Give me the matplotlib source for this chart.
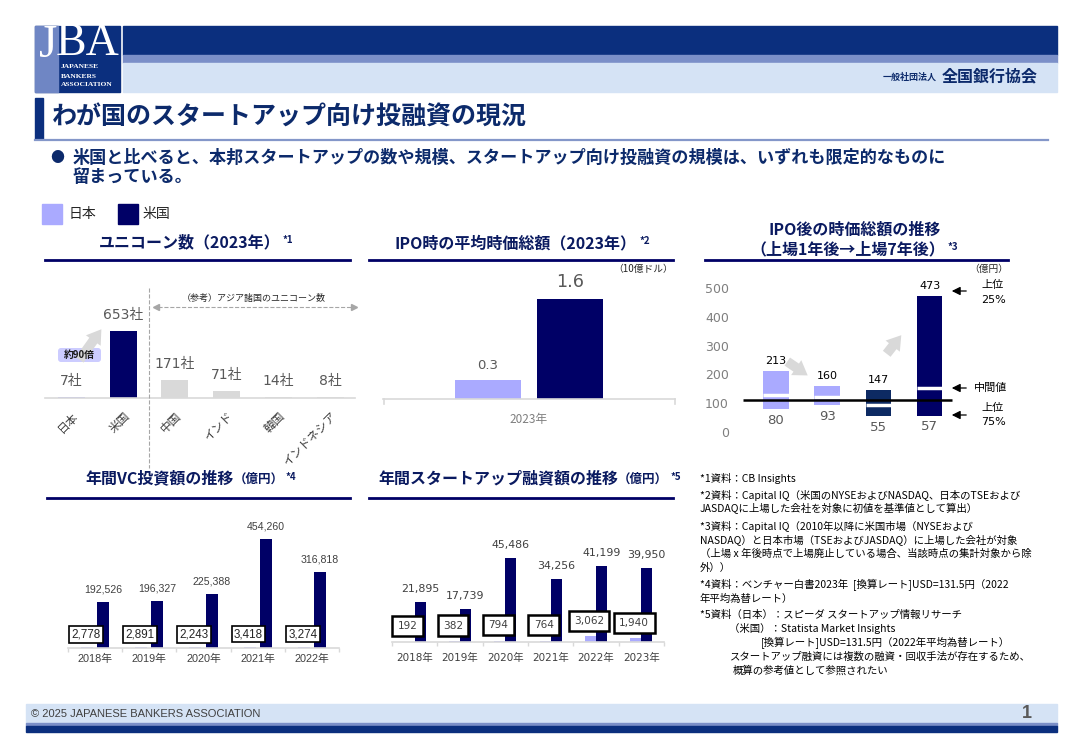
import numpy as np
import matplotlib
matplotlib.use('Agg')
import matplotlib.pyplot as plt
from matplotlib.patches import Rectangle, FancyBboxPatch

plt.rcParams['font.family'] = ['Noto Sans CJK JP', 'DejaVu Sans']
NUM = ['DejaVu Sans', 'Noto Sans CJK JP']
ARIAL = ['Liberation Sans', 'Noto Sans CJK JP']

# ---- data ----
legend_names = ['日本', '米国']

uni_countries = ['日本', '米国', '中国', 'インド', '韓国', 'インドネシア']
uni_counts = [7, 653, 171, 71, 14, 8]

ipo_year = '2023年'
ipo_values = [0.3, 1.6]          # 10億ドル: 日本, 米国

post_high = [213, 160, 147, 473]  # 上位25%
post_low = [80, 93, 55, 57]       # 上位75%
post_mid = [127, 122, 95, 153]    # 中間値
post_ref = 110

vc_years = ['2018年', '2019年', '2020年', '2021年', '2022年']
vc_jp = [2778, 2891, 2243, 3418, 3274]
vc_us = [192526, 196327, 225388, 454260, 316818]

loan_years = ['2018年', '2019年', '2020年', '2021年', '2022年', '2023年']
loan_jp = [192, 382, 794, 764, 3062, 1940]
loan_us = [21895, 17739, 45486, 34256, 41199, 39950]

notes = [
    '*1資料：CB Insights',
    '*2資料：Capital IQ（米国のNYSEおよびNASDAQ、日本のTSEおよび',
    'JASDAQに上場した会社を対象に初値を基準値として算出）',
    '*3資料：Capital IQ（2010年以降に米国市場（NYSEおよび',
    'NASDAQ）と日本市場（TSEおよびJASDAQ）に上場した会社が対象',
    '（上場 x 年後時点で上場廃止している場合、当該時点の集計対象から除',
    '外））',
    '*4資料：ベンチャー白書2023年  [換算レート]USD=131.5円（2022',
    '年平均為替レート）',
    '*5資料（日本）：スピーダ スタートアップ情報リサーチ',
    '（米国）：Statista Market Insights',
    '[換算レート]USD=131.5円（2022年平均為替レート）',
    'スタートアップ融資には複数の融資・回収手法が存在するため、',
    '概算の参考値として参照されたい',
]
note_pos = [(700, 478), (700, 495), (700, 509), (700, 526), (700, 540), (700, 554),
            (700, 568), (700, 585), (700, 599), (700, 615), (729, 629), (761, 643),
            (730, 657), (733, 671)]

LIGHT = '#aaaaff'
NAVY = '#000066'
NAVY2 = '#0d2a63'
GREY = '#d9d9d9'
HDR = '#0b2f7e'
MID = '#7b8fc8'
PALE = '#d5e3f5'
TXT = '#0c2a6b'
PT = '#0a1a60'

W, H = 1084, 750
fig = plt.figure(figsize=(W / 100, H / 100), dpi=100)


def box_axes(x0, y0, x1, y1):
    a = fig.add_axes([x0 / W, 1 - y1 / H, (x1 - x0) / W, (y1 - y0) / H])
    a.patch.set_alpha(0)
    for s in ['top', 'right', 'left']:
        a.spines[s].set_visible(False)
    a.spines['bottom'].set_color(GREY)
    a.spines['bottom'].set_linewidth(1.2)
    a.tick_params(axis='y', left=False, labelleft=False)
    return a


ov = fig.add_axes([0, 0, 1, 1])
ov.set_xlim(0, W)
ov.set_ylim(H, 0)
ov.axis('off')
ov.set_zorder(10)


def panel_title(x, y, text, note, unit=None, ha='center'):
    t = ov.text(x, y, text, fontsize=11.5, weight='bold', color=PT, ha=ha, va='center')
    last = t
    if unit:
        last = ov.annotate(unit, xy=(1, 0.45), xycoords=t, ha='left', va='center',
                           fontsize=9, weight='bold', color=PT)
    ov.annotate(note, xy=(1, 0.64), xycoords=last, xytext=(1.5, 0), textcoords='offset points',
                ha='left', va='center', fontsize=7, weight='bold', color=PT)


# ---- header ----
ov.add_patch(Rectangle((35, 26), 85, 66, color=HDR))
ov.add_patch(Rectangle((35, 26), 23, 66, color='#6f86c4'))
ov.text(48, 46, 'J', color='white', fontsize=34, family='Liberation Serif', ha='center', va='center')
ov.text(88, 44, 'BA', color='white', fontsize=33, family='Liberation Serif', ha='center', va='center')
for yy, t in [(67, 'JAPANESE'), (76, 'BANKERS'), (85, 'ASSOCIATION')]:
    ov.text(61, yy, t, color='white', fontsize=5.4, family='Liberation Serif', weight='bold', va='center')
ov.add_patch(Rectangle((123, 26), 934, 29, color=HDR))
ov.add_patch(Rectangle((123, 55), 934, 8, color=MID))
ov.add_patch(Rectangle((123, 63), 934, 29, color=PALE))
ov.text(937, 77, '一般社団法人', fontsize=6.5, weight='bold', color=TXT, ha='right', va='center')
ov.text(1038, 76, '全国銀行協会', fontsize=11.5, weight='bold', color=TXT, ha='right', va='center')

# ---- title ----
ov.add_patch(Rectangle((35, 98), 8, 41, color=HDR))
ov.plot([35, 1048], [139.5, 139.5], color='#8497c9', lw=1.6)
ov.text(52, 118, 'わが国のスタートアップ向け投融資の現況', fontsize=18, weight='bold', color=TXT, va='center')
ov.text(57, 158, '●', fontsize=10, color=TXT, ha='center', va='center')
ov.text(73, 158, '米国と比べると、本邦スタートアップの数や規模、スタートアップ向け投融資の規模は、いずれも限定的なものに',
        fontsize=12.3, weight='bold', color=TXT, va='center')
ov.text(73, 177, '留まっている。', fontsize=12.3, weight='bold', color=TXT, va='center')

# legend
ov.add_patch(Rectangle((42, 204), 20, 20, color=LIGHT))
ov.text(69, 214, legend_names[0], fontsize=10, color='#262626', va='center')
ov.add_patch(Rectangle((118, 204), 20, 20, color=NAVY))
ov.text(143, 214, legend_names[1], fontsize=10, color='#262626', va='center')

# panel titles
panel_title(190, 242, 'ユニコーン数（2023年）', '*1')
ov.plot([45, 350], [259.5, 259.5], color=NAVY, lw=2)

panel_title(516, 243, 'IPO時の平均時価総額（2023年）', '*2')
ov.plot([369, 673], [260, 260], color=NAVY, lw=2)
ov.text(673, 269, '（10億ドル）', fontsize=7, color='#262626', ha='right', va='center')

ov.text(855, 230, 'IPO後の時価総額の推移', fontsize=11.5, weight='bold', color=PT, ha='center', va='center')
panel_title(848, 249, '（上場1年後→上場7年後）', '*3')
ov.plot([705, 1008], [260, 260], color=NAVY, lw=2)
ov.text(1008, 269, '（億円）', fontsize=7, color='#262626', ha='right', va='center')

panel_title(85, 478, '年間VC投資額の推移', '*4', unit='（億円）', ha='left')
ov.plot([47, 350], [498, 498], color=NAVY, lw=2)

panel_title(378, 478, '年間スタートアップ融資額の推移', '*5', unit='（億円）', ha='left')
ov.plot([369, 673], [498, 498], color=NAVY, lw=2)

# ---- panel 1: unicorns ----
ax1 = box_axes(45, 280, 355, 398)
x1 = np.arange(len(uni_counts))
ax1.bar(x1, uni_counts, width=0.52, color=[LIGHT, NAVY] + [GREY] * 4)
ax1.set_xlim(-0.51, 5.48)
ax1.set_ylim(0, 1150)
for i, v in enumerate(uni_counts):
    ax1.annotate(f'{v}社', (i, v), xytext=(0, 11.5), textcoords='offset points',
                 ha='center', va='center', fontsize=10, color='#595959', family=NUM)
ax1.set_xticks(x1)
ax1.set_xticklabels(uni_countries, rotation=45, ha='right', rotation_mode='anchor',
                    fontsize=8.5, color='#404040')
ax1.tick_params(axis='x', length=0, pad=8)

ov.plot([149, 149], [288, 468], ls='--', color='#a6a6a6', lw=0.8)
ov.plot([158, 352], [307, 307], ls='--', color='#a6a6a6', lw=0.8)
ov.plot([156], [307], marker='<', color='#a6a6a6', ms=5)
ov.plot([354], [307], marker='>', color='#a6a6a6', ms=5)
ov.text(254, 298, '（参考）アジア諸国のユニコーン数', fontsize=6.5, color='#262626', ha='center', va='center')
ov.annotate('', xy=(103, 327), xytext=(78, 362),
            arrowprops=dict(arrowstyle='simple,head_width=1.3,head_length=1.0,tail_width=0.7',
                            color=GREY, lw=0))
ov.add_patch(FancyBboxPatch((58, 348), 43, 14, boxstyle='round,pad=0,rounding_size=3',
                            fc='#ccccff', ec='none'))
ov.text(79.5, 355, '約90倍', fontsize=7, weight='bold', color='#1a1a1a', ha='center', va='center')

# ---- panel 2: IPO average market cap ----
ax2 = box_axes(383, 270, 675, 399)
ax2.bar([0, 1], ipo_values, width=0.8, color=[LIGHT, NAVY])
ax2.set_xlim(-1.267, 2.27)
ax2.set_ylim(0, 2.064)
for i, (v, fs) in enumerate(zip(ipo_values, [9.5, 12.7])):
    ax2.annotate(f'{v:.1f}', (i, v), xytext=(0, 6), textcoords='offset points',
                 ha='center', va='bottom', fontsize=fs, color='#595959', family=NUM)
ax2.set_xticks([0.5])
ax2.set_xticklabels([ipo_year], fontsize=8.5, color='#7f7f7f')
ax2.tick_params(axis='x', length=0, pad=10)
ov.plot([383.5, 383.5], [399, 404], color=GREY, lw=1.2)
ov.plot([674.5, 674.5], [399, 404], color=GREY, lw=1.2)

# ---- panel 3: post-IPO market cap ----
ax3 = box_axes(740, 270, 960, 432)
ax3.spines['bottom'].set_visible(False)
x3 = np.arange(len(post_high))
ax3.bar(x3, np.array(post_high) - np.array(post_low), bottom=post_low, width=0.5,
        color=[LIGHT, LIGHT, NAVY2, NAVY])
ax3.hlines(post_mid, x3 - 0.25, x3 + 0.25, color='white', lw=2.5)
ax3.hlines(post_ref, -0.645, 3.44, color='black', lw=1.8)
ax3.set_xlim(-0.703, 3.594)
ax3.set_ylim(0, 562.5)
ax3.set_xticks([])
ax3.set_yticks(range(0, 501, 100))
ax3.tick_params(axis='y', left=False, labelleft=True, labelsize=9, labelcolor='#7f7f7f', pad=4.5)
for lbl in ax3.get_yticklabels():
    lbl.set_family(NUM)
for i in x3:
    ax3.annotate(str(post_high[i]), (i, post_high[i]), xytext=(0, 3.6), textcoords='offset points',
                 ha='center', va='bottom', fontsize=8, color='black', family=NUM)
    ax3.annotate(str(post_low[i]), (i, post_low[i]), xytext=(0, -3.5), textcoords='offset points',
                 ha='center', va='top', fontsize=9.5, color='#595959', family=NUM)

for ya in [291, 388, 415]:
    ov.annotate('', xy=(949, ya), xytext=(969, ya),
                arrowprops=dict(arrowstyle='-|>,head_width=0.25,head_length=0.5', color='black', lw=0.9))
ov.text(993, 285, '上位', fontsize=8, color='black', ha='center', va='center')
ov.text(993, 300, '25%', fontsize=8, color='black', ha='center', va='center', family=NUM)
ov.text(991, 388, '中間値', fontsize=8, color='black', ha='center', va='center')
ov.text(993, 408, '上位', fontsize=8, color='black', ha='center', va='center')
ov.text(993, 422, '75%', fontsize=8, color='black', ha='center', va='center', family=NUM)
ov.annotate('', xy=(810, 377), xytext=(785, 360),
            arrowprops=dict(arrowstyle='simple,head_width=1.3,head_length=1.0,tail_width=0.7',
                            color=GREY, lw=0))
ov.annotate('', xy=(903, 333), xytext=(885, 356),
            arrowprops=dict(arrowstyle='simple,head_width=1.3,head_length=1.0,tail_width=0.7',
                            color=GREY, lw=0))

# ---- panel 4: VC investment ----
ax4 = box_axes(68, 520, 339, 648)
x4 = np.arange(len(vc_us))
ax4.bar(x4 - 0.15, vc_jp, 0.22, color=LIGHT)
ax4.bar(x4 + 0.15, vc_us, 0.22, color=NAVY)
ax4.set_xlim(-0.5, 4.5)
ax4.set_ylim(0, 533450)
for i in x4:
    ax4.annotate(f'{vc_us[i]:,}', (i + 0.15, vc_us[i]), xytext=(0, 5.5), textcoords='offset points',
                 ha='center', va='bottom', fontsize=7.6, color='#404040', family=ARIAL)
    ax4.annotate(f'{vc_jp[i]:,}', (i - 0.17, vc_jp[i]), xytext=(0, 9.4), textcoords='offset points',
                 ha='center', va='center', fontsize=8.4, color='#262626', family=ARIAL,
                 bbox=dict(boxstyle='square,pad=0.2', fc='white', ec='black', lw=1.2))
ax4.set_xticks(x4)
ax4.set_xticklabels(vc_years, fontsize=7.8, color='#404040', family=ARIAL)
ax4.set_xticks(np.arange(-0.5, 5, 1), minor=True)
ax4.tick_params(axis='x', which='major', length=0, pad=4.5)
ax4.tick_params(axis='x', which='minor', length=3, color=GREY, width=1)

# ---- panel 5: startup loans ----
ax5 = box_axes(392, 520, 664, 642)
x5 = np.arange(len(loan_us))
ax5.bar(x5 - 0.12, loan_jp, 0.24, color=LIGHT)
ax5.bar(x5 + 0.12, loan_us, 0.24, color=NAVY)
ax5.set_xlim(-0.5, 5.5)
ax5.set_ylim(0, 66063)
for i in x5:
    ax5.annotate(f'{loan_us[i]:,}', (i + 0.12, loan_us[i]), xytext=(0, 5.8), textcoords='offset points',
                 ha='center', va='bottom', fontsize=7.9, color='#404040', family=NUM)
    ax5.annotate(f'{loan_jp[i]:,}', (i - 0.155, loan_jp[i]), xytext=(0, 11.2), textcoords='offset points',
                 ha='center', va='center', fontsize=7.6, color='#404040', family=NUM,
                 bbox=dict(boxstyle='square,pad=0.5', fc='white', ec='black', lw=1.8))
ax5.set_xticks(x5)
ax5.set_xticklabels(loan_years, fontsize=7.5, color='#404040', family=NUM)
ax5.set_xticks(np.arange(-0.5, 6, 1), minor=True)
ax5.tick_params(axis='x', which='major', length=0, pad=8)
ax5.tick_params(axis='x', which='minor', length=3, color=GREY, width=1)

# ---- notes ----
for (nx, ny), t in zip(note_pos, notes):
    ov.text(nx, ny, t, fontsize=7.5, color='black', va='center')

# ---- footer ----
ov.add_patch(Rectangle((26, 704), 1031, 19, color=PALE))
ov.add_patch(Rectangle((26, 723), 1031, 3, color=MID))
ov.add_patch(Rectangle((26, 726), 1031, 6, color=HDR))
ov.text(31, 714, '© 2025 JAPANESE BANKERS ASSOCIATION', fontsize=8, color='#404040',
        family='Liberation Sans', va='center')
ov.text(1027, 713, '1', fontsize=13, weight='bold', color='#595959', family='Liberation Sans',
        ha='center', va='center')

fig.savefig('out.png', dpi=100)
